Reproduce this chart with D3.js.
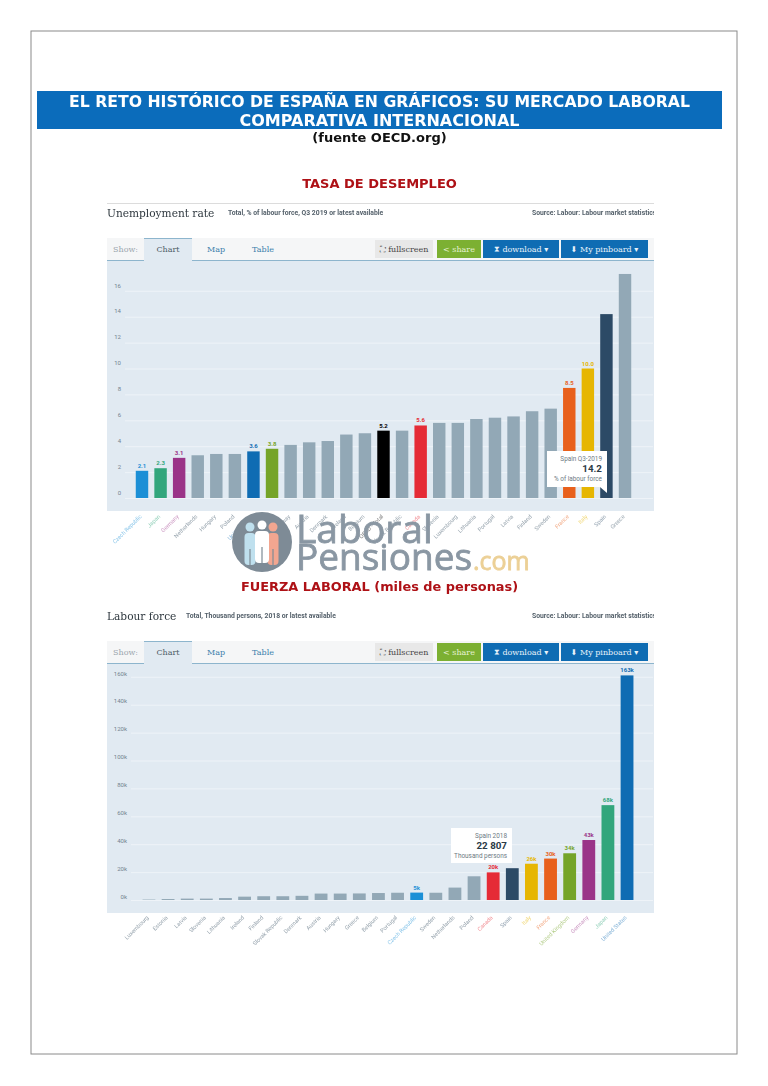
<!DOCTYPE html>
<html>
<head>
<meta charset="utf-8">
<script src="https://cdn.jsdelivr.net/npm/d3@7"></script>
<style>
  html, body { margin: 0; background: #fff; }
  svg { display: block; filter: blur(0.5px); }
  text { font-family: Roboto, sans-serif; }
  .head { font-family: "DejaVu Sans", sans-serif; font-weight: bold; text-anchor: middle; }
  .slab { font-family: "DejaVu Serif", serif; }
  .axis path { display: none; }
  .axis line { stroke: #eef3f8; stroke-width: 1; }
  .axis text { fill: #73838f; font-size: 6px; }
</style>
</head>
<body>
<div id="chart"></div>
<script>
const unemploymentCountries = ['Czech Republic', 'Japan', 'Germany', 'Netherlands', 'Hungary', 'Poland', 'United States',
  'United Kingdom', 'Norway', 'Austria', 'Denmark', 'Ireland', 'Belgium', 'OECD - Total', 'Slovak Republic', 'Canada',
  'Slovenia', 'Luxembourg', 'Lithuania', 'Portugal', 'Latvia', 'Finland', 'Sweden', 'France', 'Italy', 'Spain', 'Greece']
const unemploymentValues = [2.1, 2.3, 3.1, 3.3, 3.4, 3.4, 3.6, 3.8, 4.1, 4.3, 4.4, 4.9, 5.0, 5.2, 5.2, 5.6,
  5.8, 5.8, 6.1, 6.2, 6.3, 6.7, 6.9, 8.5, 10.0, 14.2, 17.3]
const unemploymentLabels = ['2.1', '2.3', '3.1', '', '', '', '3.6', '3.8', '', '', '', '', '', '5.2', '', '5.6',
  '', '', '', '', '', '', '', '8.5', '10.0', '', '']
const unemploymentTicks = [0, 2, 4, 6, 8, 10, 12, 14, 16]

const forceCountries = ['Luxembourg', 'Estonia', 'Latvia', 'Slovenia', 'Lithuania', 'Ireland', 'Finland', 'Slovak Republic',
  'Denmark', 'Austria', 'Hungary', 'Greece', 'Belgium', 'Portugal', 'Czech Republic', 'Sweden', 'Netherlands', 'Poland',
  'Canada', 'Spain', 'Italy', 'France', 'United Kingdom', 'Germany', 'Japan', 'United States']
const forceValues = [0.3, 0.7, 1, 1, 1.4, 2.4, 2.7, 2.7, 3, 4.6, 4.6, 4.7, 5, 5.2, 5.3, 5.2, 8.9, 17, 19.8, 22.8, 26, 29.7, 33.5, 43, 68, 161]
const forceLabels = ['', '', '', '', '', '', '', '', '', '', '', '', '', '', '5k', '', '', '', '20k', '', '26k', '30k', '34k', '43k', '68k', '163k']
const forceTicks = [0, 20, 40, 60, 80, 100, 120, 140, 160]

const highlight = {
  'Czech Republic': '#1b8fd6', 'Japan': '#32a67c', 'Germany': '#9a3488', 'United States': '#0f6cb3',
  'United Kingdom': '#75a428', 'OECD - Total': '#000000', 'Canada': '#e52b36', 'France': '#e8601c',
  'Italy': '#e6b602', 'Spain': '#2c4a66'
}
const grey = '#92a8b6'

const svg = d3.select('#chart').append('svg').attr('width', 768).attr('height', 1086)

svg.append('clipPath').attr('id', 'source-clip').append('rect')
  .attr('x', 500).attr('y', 0).attr('width', 154).attr('height', 1086)

// page frame and headings
svg.append('rect').attr('x', 31).attr('y', 31).attr('width', 706).attr('height', 1023)
  .attr('fill', 'none').attr('stroke', '#8a8a8a')
svg.append('rect').attr('x', 37).attr('y', 91).attr('width', 685).attr('height', 38).attr('fill', '#0b6cbb')

const heading = (txt, y, size, fill) => svg.append('text').attr('class', 'head')
  .attr('x', 379.5).attr('y', y).attr('font-size', size).attr('fill', fill).text(txt)

heading('EL RETO HISTÓRICO DE ESPAÑA EN GRÁFICOS: SU MERCADO LABORAL', 107, 15.7, '#fff')
heading('COMPARATIVA INTERNACIONAL', 126, 16, '#fff')
heading('(fuente OECD.org)', 142, 13, '#111')
heading('TASA DE DESEMPLEO', 188, 13, '#ae1116')
heading('FUERZA LABORAL (miles de personas)', 591, 12.9, '#ae1116')

const drawToolbar = (top) => {
  const g = svg.append('g').attr('transform', `translate(0,${top})`)
  g.append('rect').attr('x', 107).attr('y', 0).attr('width', 547).attr('height', 22).attr('fill', '#f5f6f7')
  g.append('rect').attr('x', 107).attr('y', 22).attr('width', 547).attr('height', 1.2).attr('fill', '#8db5cd')
  g.append('rect').attr('x', 144).attr('y', 0).attr('width', 48).attr('height', 23).attr('fill', '#e1eaf2')
  g.append('rect').attr('x', 144).attr('y', 0).attr('width', 48).attr('height', 1).attr('fill', '#8db5cd')
  const label = (txt, x, fill, anchor) => g.append('text').attr('class', 'slab').attr('x', x).attr('y', 14)
    .attr('font-size', 8).attr('fill', fill).attr('text-anchor', anchor || 'middle').text(txt)
  label('Show:', 113, '#9aa5ad', 'start')
  label('Chart', 168, '#4d5b66')
  label('Map', 216, '#3b80ab')
  label('Table', 263, '#3b80ab')
  const buttons = [
    { x: 375, w: 58, fill: '#e8e8e8', txt: '⛶ fullscreen', color: '#444' },
    { x: 437, w: 44, fill: '#7cb032', txt: '< share', color: '#e6f2d5' },
    { x: 483, w: 76, fill: '#0f6cb3', txt: '⧗ download ▾', color: '#e8f2fa' },
    { x: 561, w: 87, fill: '#0f6cb3', txt: '⬇ My pinboard ▾', color: '#e8f2fa' }
  ]
  buttons.forEach(b => {
    g.append('rect').attr('x', b.x).attr('y', 2).attr('width', b.w).attr('height', 18).attr('fill', b.fill)
    label(b.txt, b.x + b.w / 2, b.color)
  })
}

const drawHeader = (title, sub, subX, y) => {
  svg.append('text').attr('class', 'slab').attr('x', 107).attr('y', y).attr('font-size', 10.6)
    .attr('fill', '#2f383f').text(title)
  svg.append('text').attr('x', subX).attr('y', y - 2).attr('font-size', 6.8).attr('font-weight', 700)
    .attr('fill', '#55616b').text(sub)
  svg.append('text').attr('x', 532).attr('y', y - 2).attr('font-size', 6.8).attr('font-weight', 700)
    .attr('fill', '#55616b').attr('clip-path', 'url(#source-clip)').text('Source: Labour: Labour market statistics')
}

const drawChart = (o) => {
  svg.append('rect').attr('x', 107).attr('y', o.top).attr('width', 547).attr('height', o.height).attr('fill', '#e1eaf2')

  const x = d3.scaleBand().domain(o.countries).range(o.xRange).paddingInner(0.33).paddingOuter(0.165)
  const y = d3.scaleLinear().domain([0, o.ticks[o.ticks.length - 1]]).range([o.base, o.yTop])

  // gridlines sit a little under their labels in the original
  svg.append('g').attr('class', 'axis').attr('transform', `translate(${o.axisX},0)`)
    .call(d3.axisLeft(y).tickValues(o.ticks).tickSize(-(653 - o.axisX)).tickFormat(o.tickFormat))
    .selectAll('text').attr('dy', o.tickDy).attr('x', -4)

  const bars = o.countries.map((c, i) => ({ c: c, v: o.values[i], label: o.labels[i], color: highlight[c] || grey }))

  svg.selectAll(null).data(bars).enter().append('rect')
    .attr('x', d => x(d.c))
    .attr('y', d => y(d.v))
    .attr('width', x.bandwidth())
    .attr('height', d => o.base - y(d.v))
    .attr('fill', d => d.color)

  svg.selectAll(null).data(bars.filter(d => d.label)).enter().append('text')
    .attr('x', d => x(d.c) + x.bandwidth() / 2)
    .attr('y', d => y(d.v) - 3)
    .attr('text-anchor', 'middle').attr('font-size', 6).attr('font-weight', 700)
    .attr('fill', d => d.color).text(d => d.label)

  svg.selectAll(null).data(bars).enter().append('text')
    .attr('transform', d => `translate(${x(d.c) + x.bandwidth() / 2},${o.labelY}) rotate(-45)`)
    .attr('text-anchor', 'end').attr('font-size', 5.6)
    .attr('fill', d => d.color === grey ? '#95a2ac' : d.color)
    .attr('fill-opacity', d => d.color === grey ? 1 : 0.55)
    .text(d => d.c)
}

const drawTooltip = (left, top, w, h, lines, tail) => {
  const g = svg.append('g').attr('transform', `translate(${left},${top})`)
  g.append('rect').attr('width', w).attr('height', h).attr('fill', '#fff')
  if (tail) g.append('path').attr('d', `M${w - 7},${h}L${w},${h}L${w},${h + 6}Z`).attr('fill', '#fff')
  lines.forEach((l, i) => {
    g.append('text').attr('x', w - 5).attr('y', [10, 21, 30][i]).attr('text-anchor', 'end')
      .attr('font-size', i === 1 ? 9.8 : 6.4).attr('font-weight', i === 1 ? 700 : 400)
      .attr('fill', i === 1 ? '#2b3a46' : '#6d7a84').text(l)
  })
}

svg.append('rect').attr('x', 107).attr('y', 203).attr('width', 547).attr('height', 1).attr('fill', '#dcdcdc')
drawHeader('Unemployment rate', 'Total, % of labour force, Q3 2019 or latest available', 228, 217)
drawToolbar(238)
drawChart({
  countries: unemploymentCountries, values: unemploymentValues, labels: unemploymentLabels, ticks: unemploymentTicks,
  tickFormat: d => d, top: 261, height: 250, base: 498, yTop: 498 - 16 * 12.95,
  axisX: 125, xRange: [132.7, 634.3], labelY: 517, tickDy: '-0.63em'
})
drawTooltip(547, 451, 60, 36, ['Spain Q3-2019', '14.2', '% of labour force'], true)

drawHeader('Labour force', 'Total, Thousand persons, 2018 or latest available', 186, 620)
drawToolbar(641)
drawChart({
  countries: forceCountries, values: forceValues, labels: forceLabels, ticks: forceTicks,
  tickFormat: d => d + 'k', top: 664, height: 249, base: 900, yTop: 900 - 160 * 1.395,
  axisX: 131, xRange: [139.4, 636.6], labelY: 918, tickDy: '-0.3em'
})
drawTooltip(451, 828, 61, 35, ['Spain 2018', '22 807', 'Thousand persons'], false)

// watermark over the first chart's labels
const mark = svg.append('g')
mark.append('circle').attr('cx', 262).attr('cy', 542).attr('r', 30).attr('fill', '#7e8b96')
const people = [
  { x: 250, head: 527, w: 11, fill: '#bfe0ee' },
  { x: 273, head: 527, w: 11, fill: '#f2a690' },
  { x: 262, head: 525, w: 14, fill: '#ffffff' }
]
people.forEach(p => {
  mark.append('circle').attr('cx', p.x).attr('cy', p.head).attr('r', 4.5).attr('fill', p.fill)
  mark.append('rect').attr('x', p.x - p.w / 2).attr('y', p.head + 6).attr('width', p.w).attr('height', 32)
    .attr('rx', 4).attr('fill', p.fill)
  mark.append('rect').attr('x', p.x - 0.6).attr('y', p.head + 22).attr('width', 1.2).attr('height', 16).attr('fill', '#7e8b96')
})
const markText = (txt, x, y, size, fill) => mark.append('text').attr('x', x).attr('y', y)
  .style('font-family', '"Open Sans", sans-serif').attr('stroke', fill).attr('stroke-width', 0.8)
  .attr('font-size', size).attr('fill', fill).text(txt)
markText('Laboral', 296, 543, 39, '#8a97a3')
markText('Pensiones', 296, 570, 37, '#8a97a3')
markText('.com', 473, 570, 25, '#ecd096')
</script>
</body>
</html>
